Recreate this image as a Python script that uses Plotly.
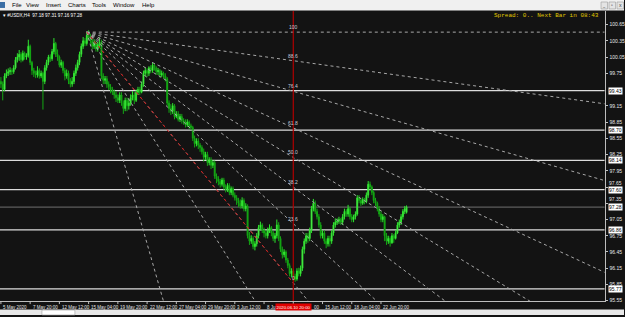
import plotly.graph_objects as go

# ---------------- data ----------------
opens = [
 99.60, 99.55, 99.45, 99.70, 99.75, 99.78, 99.80, 99.78, 99.85, 100.00,
 100.05, 100.10, 100.00, 100.12, 100.05, 100.08, 100.25, 99.95, 99.80, 99.75,
 99.72, 99.80, 99.70, 99.75, 99.60, 99.85, 99.95, 100.05, 100.02, 100.15,
 100.30, 100.10, 100.05, 99.90, 99.95, 99.80, 99.70, 99.75, 99.62, 99.55,
 99.60, 99.75, 99.85, 99.95, 100.10, 100.25, 100.35, 100.30, 100.45, 100.40,
 100.35, 100.25, 100.30, 100.20, 100.28, 100.32, 99.70, 99.62, 99.65, 99.55,
 99.50, 99.45, 99.40, 99.35, 99.30, 99.25, 99.35, 99.20, 99.10, 99.25,
 99.15, 99.20, 99.30, 99.35, 99.25, 99.40, 99.45, 99.40, 99.55, 99.75,
 99.80, 99.75, 99.85, 99.80, 99.90, 99.85, 99.78, 99.80, 99.72, 99.75,
 99.70, 99.65, 99.20, 99.10, 99.05, 99.15, 98.95, 99.00, 98.90, 98.95,
 98.88, 98.85, 98.80, 98.85, 98.78, 98.75, 98.55, 98.45, 98.50, 98.42,
 98.38, 98.30, 98.20, 98.25, 98.10, 98.15, 98.05, 98.10, 97.85, 97.80,
 97.75, 97.70, 97.78, 97.65, 97.60, 97.68, 97.55, 97.62, 97.50, 97.45,
 97.40, 97.35, 97.30, 97.40, 97.25, 97.30, 96.75, 96.65, 96.70, 96.55,
 96.60, 96.75, 96.90, 96.95, 96.85, 96.80, 96.75, 96.85, 96.90, 96.80,
 96.70, 96.75, 96.95, 96.70, 96.50, 96.40, 96.45, 96.30, 96.20, 96.05,
 96.10, 96.00, 95.95, 96.10, 96.05, 96.15, 96.50, 96.65, 96.75, 96.70,
 96.85, 97.25, 97.35, 97.20, 97.10, 96.95, 96.75, 96.80, 96.65, 96.60,
 96.70, 96.65, 96.80, 96.95, 97.00, 97.02, 97.05, 97.00, 97.10, 97.20,
 97.15, 97.25, 97.10, 97.05, 97.10, 97.15, 97.45, 97.40, 97.35, 97.42,
 97.38, 97.50, 97.70, 97.65, 97.55, 97.40, 97.35, 97.25, 97.15, 97.05,
 97.10, 96.75, 96.65, 96.70, 96.62, 96.75, 96.70, 96.80, 96.95, 97.00,
 97.10, 97.20, 97.18]
highs = [
 99.68, 99.60, 99.75, 99.82, 99.84, 99.86, 99.84, 99.90, 100.05, 100.12,
 100.18, 100.14, 100.17, 100.15, 100.12, 100.37, 100.28, 99.98, 99.85, 99.80,
 99.88, 99.84, 99.80, 99.78, 99.90, 100.00, 100.09, 100.10, 100.20, 100.40,
 100.33, 100.19, 100.08, 100.00, 99.98, 99.85, 99.82, 99.80, 99.66, 99.68,
 99.80, 99.91, 100.00, 100.15, 100.30, 100.42, 100.40, 100.52, 100.55, 100.48,
 100.40, 100.38, 100.35, 100.33, 100.41, 100.37, 99.75, 99.70, 99.70, 99.60,
 99.55, 99.50, 99.45, 99.42, 99.36, 99.40, 99.40, 99.25, 99.30, 99.30,
 99.28, 99.36, 99.42, 99.40, 99.45, 99.50, 99.50, 99.60, 99.80, 99.86,
 99.84, 99.88, 99.90, 99.95, 99.93, 99.88, 99.85, 99.83, 99.80, 99.78,
 99.75, 99.68, 99.25, 99.18, 99.20, 99.18, 99.05, 99.05, 99.00, 99.00,
 98.92, 98.90, 98.90, 98.88, 98.82, 98.78, 98.60, 98.55, 98.55, 98.46,
 98.42, 98.36, 98.30, 98.30, 98.20, 98.20, 98.15, 98.14, 97.90, 97.85,
 97.80, 97.82, 97.82, 97.70, 97.72, 97.72, 97.66, 97.66, 97.55, 97.50,
 97.45, 97.42, 97.46, 97.44, 97.35, 97.33, 96.82, 96.76, 96.74, 96.65,
 96.80, 96.95, 97.01, 96.98, 96.90, 96.85, 96.90, 96.96, 96.93, 96.84,
 96.80, 97.05, 97.00, 96.74, 96.55, 96.50, 96.48, 96.34, 96.24, 96.15,
 96.14, 96.05, 96.15, 96.16, 96.20, 96.55, 96.70, 96.80, 96.80, 96.90,
 97.30, 97.43, 97.40, 97.25, 97.15, 97.00, 96.85, 96.85, 96.70, 96.75,
 96.75, 96.85, 97.00, 97.07, 97.07, 97.10, 97.08, 97.15, 97.25, 97.24,
 97.32, 97.28, 97.15, 97.14, 97.20, 97.50, 97.50, 97.44, 97.46, 97.45,
 97.55, 97.76, 97.75, 97.68, 97.58, 97.45, 97.38, 97.30, 97.20, 97.15,
 97.12, 96.80, 96.75, 96.74, 96.80, 96.78, 96.85, 97.00, 97.05, 97.15,
 97.24, 97.30, 97.31]
lows = [
 99.48, 99.25, 99.42, 99.66, 99.70, 99.72, 99.72, 99.74, 99.82, 99.95,
 99.98, 99.95, 99.97, 100.00, 100.00, 100.04, 99.90, 99.72, 99.68, 99.66,
 99.67, 99.65, 99.66, 99.08, 99.55, 99.80, 99.90, 99.96, 99.98, 100.10,
 100.05, 99.98, 99.86, 99.85, 99.75, 99.62, 99.65, 99.55, 99.49, 99.50,
 99.55, 99.70, 99.80, 99.90, 100.05, 100.20, 100.25, 100.26, 100.36, 100.30,
 100.19, 100.20, 100.15, 100.15, 100.22, 99.64, 99.55, 99.55, 99.48, 99.44,
 99.38, 99.35, 99.28, 99.22, 99.20, 99.20, 99.15, 99.00, 99.05, 99.05,
 99.08, 99.15, 99.25, 99.18, 99.22, 99.35, 99.35, 99.38, 99.50, 99.70,
 99.68, 99.70, 99.75, 99.76, 99.80, 99.72, 99.72, 99.67, 99.68, 99.65,
 99.60, 99.15, 99.02, 98.98, 99.00, 98.90, 98.92, 98.86, 98.85, 98.82,
 98.80, 98.75, 98.76, 98.72, 98.70, 98.50, 98.38, 98.40, 98.35, 98.30,
 98.25, 98.12, 98.15, 98.04, 98.05, 97.98, 98.00, 97.80, 97.72, 97.68,
 97.64, 97.66, 97.60, 97.55, 97.56, 97.50, 97.50, 97.46, 97.40, 97.32,
 97.28, 97.25, 97.25, 97.20, 97.20, 96.70, 96.58, 96.60, 96.50, 96.48,
 96.55, 96.70, 96.85, 96.80, 96.72, 96.70, 96.70, 96.80, 96.74, 96.65,
 96.62, 96.70, 96.65, 96.45, 96.33, 96.35, 96.25, 96.15, 96.00, 95.98,
 95.92, 95.90, 95.92, 96.00, 96.00, 96.10, 96.42, 96.60, 96.62, 96.65,
 96.80, 97.20, 97.15, 97.05, 96.90, 96.70, 96.70, 96.60, 96.52, 96.55,
 96.55, 96.60, 96.75, 96.90, 96.95, 96.97, 96.95, 96.95, 97.05, 97.10,
 97.10, 97.05, 97.00, 97.00, 97.05, 97.12, 97.35, 97.30, 97.32, 97.33,
 97.35, 97.45, 97.60, 97.50, 97.35, 97.30, 97.20, 97.10, 97.00, 97.00,
 96.65, 96.58, 96.60, 96.55, 96.60, 96.62, 96.68, 96.78, 96.90, 96.95,
 97.05, 97.15, 97.16]
closes = [
 99.55, 99.45, 99.70, 99.75, 99.78, 99.80, 99.78, 99.85, 100.00, 100.05,
 100.10, 100.00, 100.12, 100.05, 100.08, 100.25, 99.95, 99.80, 99.75, 99.72,
 99.80, 99.70, 99.75, 99.60, 99.85, 99.95, 100.05, 100.02, 100.15, 100.30,
 100.10, 100.05, 99.90, 99.95, 99.80, 99.70, 99.75, 99.62, 99.55, 99.60,
 99.75, 99.85, 99.95, 100.10, 100.25, 100.35, 100.30, 100.45, 100.40, 100.35,
 100.25, 100.30, 100.20, 100.28, 100.32, 99.70, 99.62, 99.65, 99.55, 99.50,
 99.45, 99.40, 99.35, 99.30, 99.25, 99.35, 99.20, 99.10, 99.25, 99.15,
 99.20, 99.30, 99.35, 99.25, 99.40, 99.45, 99.40, 99.55, 99.75, 99.80,
 99.75, 99.85, 99.80, 99.90, 99.85, 99.78, 99.80, 99.72, 99.75, 99.70,
 99.65, 99.20, 99.10, 99.05, 99.15, 98.95, 99.00, 98.90, 98.95, 98.88,
 98.85, 98.80, 98.85, 98.78, 98.75, 98.55, 98.45, 98.50, 98.42, 98.38,
 98.30, 98.20, 98.25, 98.10, 98.15, 98.05, 98.10, 97.85, 97.80, 97.75,
 97.70, 97.78, 97.65, 97.60, 97.68, 97.55, 97.62, 97.50, 97.45, 97.40,
 97.35, 97.30, 97.40, 97.25, 97.30, 96.75, 96.65, 96.70, 96.55, 96.60,
 96.75, 96.90, 96.95, 96.85, 96.80, 96.75, 96.85, 96.90, 96.80, 96.70,
 96.75, 96.95, 96.70, 96.50, 96.40, 96.45, 96.30, 96.20, 96.05, 96.10,
 96.00, 95.95, 96.10, 96.05, 96.15, 96.50, 96.65, 96.75, 96.70, 96.85,
 97.25, 97.35, 97.20, 97.10, 96.95, 96.75, 96.80, 96.65, 96.60, 96.70,
 96.65, 96.80, 96.95, 97.00, 97.02, 97.05, 97.00, 97.10, 97.20, 97.15,
 97.25, 97.10, 97.05, 97.10, 97.15, 97.45, 97.40, 97.35, 97.42, 97.38,
 97.50, 97.70, 97.65, 97.55, 97.40, 97.35, 97.25, 97.15, 97.05, 97.10,
 96.75, 96.65, 96.70, 96.62, 96.75, 96.70, 96.80, 96.95, 97.00, 97.10,
 97.20, 97.25, 97.28]
bar_index = list(range(len(closes)))

price_ticks = [100.65, 100.35, 100.05, 99.75, 99.15, 98.85, 98.55, 98.25,
               97.95, 97.65, 97.35, 97.05, 96.75, 96.45, 96.15, 95.85, 95.55]
price_ticks_near_boxes = [97.65, 97.35]
time_label_index = [0, 16, 32, 48, 64, 80, 96, 112, 128, 144, 176, 192, 208]
time_labels = ["5 May 2020", "7 May 20:00", "12 May 12:00", "15 May 04:00", "19 May 20:00",
               "22 May 12:00", "27 May 04:00", "29 May 20:00", "3 Jun 12:00", "8 Jun",
               "15 Jun 12:00", "18 Jun 04:00", "22 Jun 20:00"]
hidden_label_index = 160
hidden_label_tail = "00"
cursor_label = "2020.06.10 20:00"

level_lines = [99.43, 98.70, 98.14, 97.60, 96.86, 95.77]
bid_price = 97.28

fan_start = (47, 100.51)
fan_end = (160, 95.88)
fan_levels = [100, 88.6, 76.4, 61.8, 50.0, 38.2, 23.6, 0]
fan_labels = ["100", "88.6", "76.4", "61.8", "50.0", "38.2", "23.6", "0"]
steep_levels = [-31.6, -189.0]

menu_items = ["File", "View", "Insert", "Charts", "Tools", "Window", "Help"]
menu_x = [10, 24, 44, 66, 90, 111, 140]

# ---------------- geometry helpers ----------------
W, H = 625, 317
top_px, bot_px, right_px = 11, 303, 605.5
px_per_bar = 1.833
def ppx(v): return v / W
def ppy(v): return 1 - v / H

y_top = 100.65 + (24.7 - top_px) * 0.018349
y_bot = 100.65 - (bot_px - 24.7) * 0.018349
x_max = right_px / px_per_bar

AX_FONT = "Liberation Sans"
fig = go.Figure()
shapes = []
annotations = []

# horizontal level lines
for p in level_lines:
    shapes.append(dict(type="line", xref="paper", yref="y", x0=0, x1=right_px / W, y0=p, y1=p,
                       line=dict(color="#dcdcdc", width=1.2), layer="below"))
shapes.append(dict(type="line", xref="paper", yref="y", x0=0, x1=right_px / W, y0=bid_price, y1=bid_price,
                   line=dict(color="#5e5e5e", width=1.2), layer="below"))

# fan rays
x0f, p0f = fan_start
x1f, p1f = fan_end
x_far = 400
for lv in fan_levels + steep_levels:
    target = p1f + lv / 100 * (p0f - p1f)
    slope = (target - p0f) / (x1f - x0f)
    fig.add_trace(go.Scatter(x=[x0f, x_far], y=[p0f, p0f + slope * (x_far - x0f)], mode="lines",
                             line=dict(color="#a8a8a8", width=1, dash="dot"), hoverinfo="skip",
                             showlegend=False))
fig.add_trace(go.Scatter(x=[x0f, x1f], y=[p0f, p1f], mode="lines",
                         line=dict(color="#d01010", width=1, dash="dot"), hoverinfo="skip",
                         showlegend=False))

# red vertical line
shapes.append(dict(type="line", xref="x", yref="paper", x0=x1f, x1=x1f, y0=ppy(bot_px), y1=ppy(top_px),
                   line=dict(color="#b00000", width=1.2)))

# candles
fig.add_trace(go.Candlestick(x=bar_index, open=opens, high=highs, low=lows, close=closes,
                             increasing=dict(line=dict(color="#2ee62e", width=1), fillcolor="#b4ffa8"),
                             decreasing=dict(line=dict(color="#14a814", width=1), fillcolor="#14a814"),
                             whiskerwidth=0, showlegend=False, hoverinfo="skip"))

# fan labels
for lv, lab in zip(fan_levels, fan_labels):
    target = p1f + lv / 100 * (p0f - p1f)
    annotations.append(dict(x=x1f, y=target, xref="x", yref="y", text=lab, showarrow=False,
                            yanchor="bottom", font=dict(size=5, color="#c8c8d8", family=AX_FONT)))

# tick labels that sit just above a box label
for v in price_ticks_near_boxes:
    annotations.append(dict(x=607.5 / W, y=v, xref="paper", yref="y", text=f"{v:.2f}", showarrow=False,
                            xanchor="left", yanchor="bottom", yshift=-1,
                            font=dict(size=5, color="#e6e6e6", family=AX_FONT)))

# right price box labels
for p in level_lines + [bid_price]:
    annotations.append(dict(x=623.5 / W, y=p, xref="paper", yref="y", text=f"{p:.2f}", showarrow=False,
                            xanchor="right", yanchor="middle", bgcolor="#ffffff",
                            borderpad=0, font=dict(size=5, color="#000000", family=AX_FONT)))

# time labels + ticks
for idx, lab in zip(time_label_index + [hidden_label_index], time_labels + [None]):
    shapes.append(dict(type="line", xref="x", yref="paper", x0=idx, x1=idx, y0=ppy(306), y1=ppy(bot_px),
                       line=dict(color="#c0c0c0", width=1)))
    if lab:
        annotations.append(dict(x=idx, y=ppy(309), xref="x", yref="paper", text=lab, showarrow=False,
                                xanchor="left", yanchor="middle", xshift=0.5,
                                font=dict(size=4.5, color="#e6e6e6", family=AX_FONT)))
annotations.append(dict(x=hidden_label_index, y=ppy(309), xref="x", yref="paper", text=hidden_label_tail,
                        showarrow=False, xanchor="left", yanchor="middle", xshift=18.5,
                        font=dict(size=4.5, color="#e6e6e6", family=AX_FONT)))
annotations.append(dict(x=x1f, y=ppy(309), xref="x", yref="paper", text=cursor_label, showarrow=False,
                        xanchor="center", yanchor="middle", bgcolor="#e00000", borderpad=0.5,
                        font=dict(size=4.3, color="#ffffff", family=AX_FONT)))

# chrome: menu bar
shapes.append(dict(type="rect", xref="paper", yref="paper", x0=0, x1=1, y0=ppy(10.5), y1=1,
                   fillcolor="#f0f0f0", line=dict(width=0), layer="above"))
for name, mx in zip(menu_items, menu_x):
    annotations.append(dict(x=ppx(mx), y=ppy(5.5), xref="paper", yref="paper", text=name, showarrow=False,
                            xanchor="left", yanchor="middle", font=dict(size=6, color="#000000", family=AX_FONT)))
shapes.append(dict(type="rect", xref="paper", yref="paper", x0=ppx(0), x1=ppx(5), y0=ppy(8), y1=ppy(2),
                   fillcolor="#3a6ea5", line=dict(width=0)))
for bx in [602, 610, 618]:
    shapes.append(dict(type="rect", xref="paper", yref="paper", x0=ppx(bx), x1=ppx(bx + 6.5), y0=ppy(9), y1=ppy(2),
                       fillcolor="#e4e4e4", line=dict(color="#9a9a9a", width=0.6)))
for bx, sym in [(605.2, "_"), (613.2, "▫"), (621.2, "x")]:
    annotations.append(dict(x=ppx(bx), y=ppy(5.5), xref="paper", yref="paper", text=sym, showarrow=False,
                            font=dict(size=5, color="#333"), xanchor="center", yanchor="middle"))

# bottom tab bar
shapes.append(dict(type="rect", xref="paper", yref="paper", x0=0, x1=1, y0=0, y1=ppy(311.5),
                   fillcolor="#e8e8e8", line=dict(width=0), layer="above"))
shapes.append(dict(type="rect", xref="paper", yref="paper", x0=ppx(42), x1=ppx(75), y0=0, y1=ppy(312),
                   fillcolor="#ffffff", line=dict(color="#a0a0a0", width=0.6), layer="above"))

# header texts
annotations.append(dict(x=ppx(1), y=ppy(15.8), xref="paper", yref="paper",
                        text="▾ #USDX,H4  97.18 97.31 97.16 97.28", showarrow=False, xanchor="left",
                        yanchor="middle", font=dict(size=4.6, color="#ffffff", family=AX_FONT)))
annotations.append(dict(x=ppx(602), y=ppy(16), xref="paper", yref="paper",
                        text="Spread: 0.. Next Bar in 08:43", showarrow=False, xanchor="right",
                        yanchor="middle", font=dict(size=6, color="#e0c800", family="Liberation Mono")))

fig.update_layout(
    width=W, height=H, margin=dict(l=0, r=0, t=0, b=0),
    paper_bgcolor="#131313", plot_bgcolor="#131313",
    shapes=shapes, annotations=annotations, showlegend=False,
    xaxis=dict(domain=[0, right_px / W], range=[-0.5, x_max], showgrid=False, zeroline=False,
               showticklabels=False, rangeslider=dict(visible=False), showline=True,
               linecolor="#bdbdbd", linewidth=1, fixedrange=True),
    yaxis=dict(domain=[ppy(bot_px), ppy(top_px)], range=[y_bot, y_top], side="right",
               tickvals=price_ticks,
               ticktext=["" if v in price_ticks_near_boxes else f"{v:.2f}" for v in price_ticks],
               tickfont=dict(size=5, color="#e6e6e6", family=AX_FONT), ticks="outside",
               ticklen=2, tickcolor="#c0c0c0", showgrid=False, zeroline=False, showline=True,
               linecolor="#bdbdbd", linewidth=1, ticklabelstandoff=1),
)

fig.write_html("out.html")
